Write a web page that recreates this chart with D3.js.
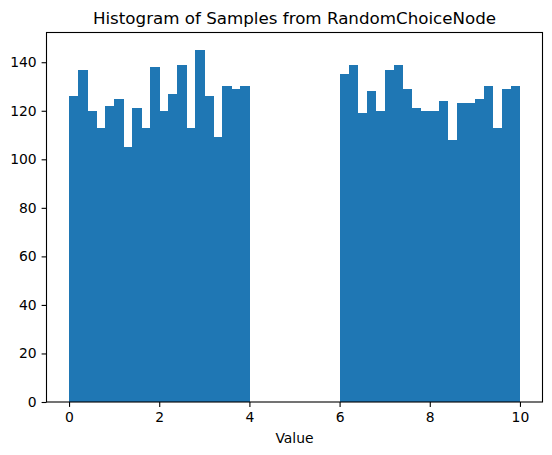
<!DOCTYPE html>
<html>
<head>
<meta charset="utf-8">
<script src="https://cdn.jsdelivr.net/npm/d3@7"></script>
<style>
html, body { margin: 0; padding: 0; background: #fff; }
svg { display: block; font-family: "DejaVu Sans", sans-serif; }
</style>
</head>
<body>
<svg id="chart" width="552" height="455"></svg>
<script>
const title = "Histogram of Samples from RandomChoiceNode";
const xLabel = "Value";
const binStart = 0;
const binWidth = 0.2;
const counts = [
  126, 137, 120, 113, 122, 125, 105, 121, 113, 138,
  120, 127, 139, 113, 145, 126, 109, 130, 129, 130,
  0, 0, 0, 0, 0, 0, 0, 0, 0, 0,
  135, 139, 119, 128, 120, 137, 139, 129, 121, 120,
  120, 124, 108, 123, 123, 125, 130, 113, 129, 130
];
const xTicks = [0, 2, 4, 6, 8, 10];
const yTicks = [0, 20, 40, 60, 80, 100, 120, 140];

(function () {
const svg = d3.select("#chart");
const mLeft = 46.5, mRight = 542.5, mTop = 32.5, mBottom = 402;

const xMin = binStart, xMax = binStart + binWidth * counts.length;
const pad = (xMax - xMin) * 0.05;
const x = d3.scaleLinear().domain([xMin - pad, xMax + pad]).range([mLeft, mRight]);
const yMax = d3.max(counts) * 1.05;
const y = d3.scaleLinear().domain([0, yMax]).range([mBottom, mTop]);

const bins = counts.map((c, i) => ({ x0: binStart + i * binWidth, x1: binStart + (i + 1) * binWidth, c }));

svg.append("g").attr("shape-rendering", "crispEdges").selectAll("rect")
  .data(bins.filter(d => d.c > 0))
  .join("rect")
  .attr("x", d => x(d.x0))
  .attr("width", d => x(d.x1) - x(d.x0) + 0.5)
  .attr("y", d => y(d.c))
  .attr("height", d => y(0) - y(d.c))
  .attr("fill", "#1f77b4");

const xAxis = svg.append("g")
  .attr("transform", `translate(0,${mBottom})`)
  .call(d3.axisBottom(x).tickValues(xTicks).tickFormat(d3.format("d")).tickSize(4.9).tickPadding(4.9));
const yAxis = svg.append("g")
  .attr("transform", `translate(${mLeft},0)`)
  .call(d3.axisLeft(y).tickValues(yTicks).tickFormat(d3.format("d")).tickSize(4.9).tickPadding(4.9));

[xAxis, yAxis].forEach(a => {
  a.select(".domain").remove();
  a.selectAll(".tick line").attr("stroke", "#000").attr("stroke-width", 1.1);
  a.selectAll(".tick text").attr("fill", "#000").style("font-size", "13.9px").style("font-family", "DejaVu Sans, sans-serif");
});

svg.append("rect")
  .attr("x", mLeft).attr("y", mTop)
  .attr("width", mRight - mLeft).attr("height", mBottom - mTop)
  .attr("fill", "none").attr("stroke", "#000").attr("stroke-width", 1.1);

svg.append("text")
  .attr("x", (mLeft + mRight) / 2).attr("y", 24)
  .attr("text-anchor", "middle")
  .style("font-size", "16.7px")
  .text(title);

svg.append("text")
  .attr("x", (mLeft + mRight) / 2).attr("y", 443)
  .attr("text-anchor", "middle")
  .style("font-size", "13.9px")
  .text(xLabel);
})();
</script>
</body>
</html>
